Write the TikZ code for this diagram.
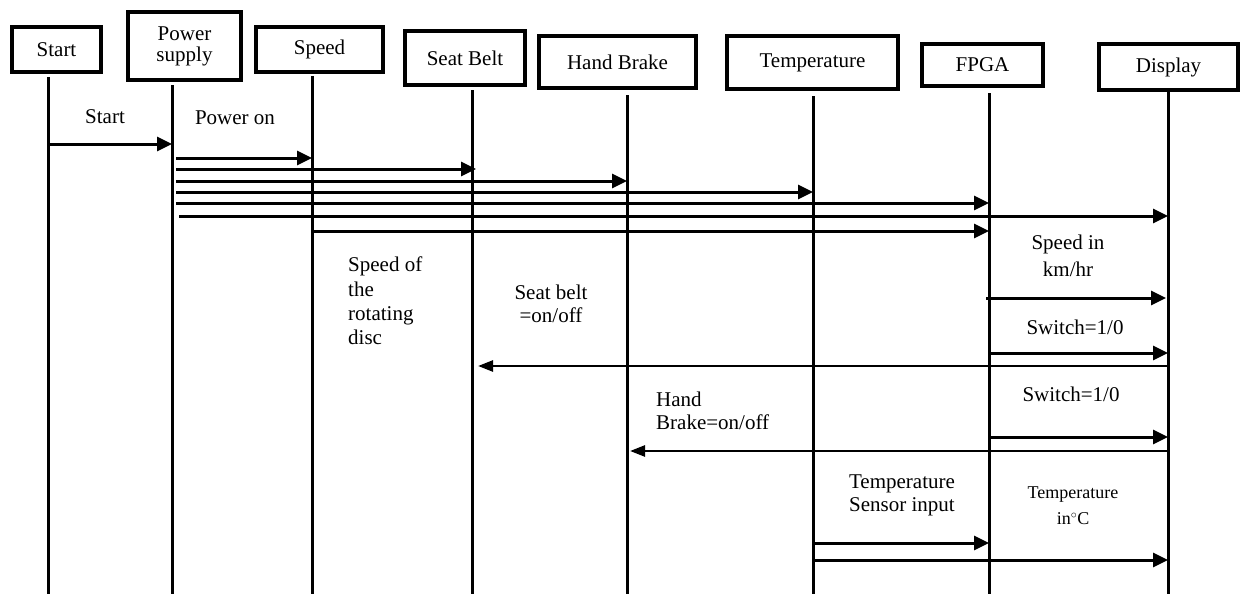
\documentclass[tikz,border=0pt]{standalone}
\usepackage{fontspec}
\setmainfont{Liberation Serif}
\usetikzlibrary{arrows.meta,calc}
\begin{document}
\begin{tikzpicture}[x=1pt,y=-1pt,
  box/.style={draw,line width=4pt,inner sep=0pt,align=center,font=\fontsize{21}{21}\selectfont},
  life/.style={line width=3pt},
  msg/.style={line width=3pt,-{Triangle[length=15pt,width=14pt]}},
  ret/.style={line width=2.6pt,-{Triangle[length=15pt,width=11pt]}},
  lbl/.style={inner sep=0pt,font=\fontsize{21}{23}\selectfont}]
\useasboundingbox (0,0) rectangle (1242,594);
% participant boxes
\node[box,minimum width=89pt,minimum height=45pt]  (start) at (56.5,49.5) {Start};
\node[box,minimum width=113pt,minimum height=68pt] (power) at (184.5,46) {Power\\supply};
\node[box,minimum width=127pt,minimum height=45pt] (speed) at (319.5,49.5) {Speed};
\node[box,minimum width=120pt,minimum height=54pt] (belt)  at (465,58) {Seat Belt};
\node[box,minimum width=157pt,minimum height=52pt] (brake) at (617.5,62) {Hand Brake};
\node[box,minimum width=171pt,minimum height=53pt] (temp)  at (812.5,62.5) {Temperature};
\node[box,minimum width=121pt,minimum height=42pt] (fpga)  at (982.5,65) {FPGA};
\node[box,minimum width=139pt,minimum height=46pt] (disp)  at (1168.5,67) {Display};
% lifeline x positions (y = 0)
\coordinate (lStart) at (48,0);
\coordinate (lPower) at (172,0);
\coordinate (lSpeed) at (312,0);
\coordinate (lBelt)  at (472,0);
\coordinate (lBrake) at (627,0);
\coordinate (lTemp)  at (813,0);
\coordinate (lFpga)  at (989,0);
\coordinate (lDisp)  at (1168,0);
% lifelines
\draw[life] ($(lStart)+(0,77)$) -- ($(lStart)+(0,594)$);
\draw[life] ($(lPower)+(0,85)$) -- ($(lPower)+(0,594)$);
\draw[life] ($(lSpeed)+(0,76)$) -- ($(lSpeed)+(0,594)$);
\draw[life] ($(lBelt)+(0,90)$)  -- ($(lBelt)+(0,594)$);
\draw[life] ($(lBrake)+(0,95)$) -- ($(lBrake)+(0,594)$);
\draw[life] ($(lTemp)+(0,96)$)  -- ($(lTemp)+(0,594)$);
\draw[life] ($(lFpga)+(0,93)$)  -- ($(lFpga)+(0,594)$);
\draw[life] ($(lDisp)+(0,90)$)  -- ($(lDisp)+(0,594)$);
% messages
\draw[msg] ($(lStart)+(0,144)$) -- ($(lPower)+(0,144)$);
\draw[msg] ($(lPower)+(4,158)$) -- ($(lSpeed)+(0,158)$);
\draw[msg] ($(lPower)+(4,169)$) -- ($(lBelt)+(4,169)$);
\draw[msg] ($(lPower)+(4,181)$) -- ($(lBrake)+(0,181)$);
\draw[msg] ($(lPower)+(4,192)$) -- ($(lTemp)+(0,192)$);
\draw[msg] ($(lPower)+(4,203)$) -- ($(lFpga)+(0,203)$);
\draw[msg] ($(lPower)+(7,216)$) -- ($(lDisp)+(0,216)$);
\draw[msg] ($(lSpeed)+(0,231)$) -- ($(lFpga)+(0,231)$);
\draw[msg] ($(lFpga)+(-3,298)$) -- ($(lDisp)+(-2,298)$);
\draw[msg] ($(lFpga)+(0,353)$) -- ($(lDisp)+(0,353)$);
\draw[ret] ($(lDisp)+(0,366)$) -- ($(lBelt)+(6,366)$);
\draw[msg] ($(lFpga)+(0,437)$) -- ($(lDisp)+(0,437)$);
\draw[ret] ($(lDisp)+(0,451)$) -- ($(lBrake)+(3,451)$);
\draw[msg] ($(lTemp)+(0,543)$) -- ($(lFpga)+(0,543)$);
\draw[msg] ($(lTemp)+(0,560)$) -- ($(lDisp)+(0,560)$);
% labels
\node[lbl,anchor=base] (tStart) at (105,123) {Start};
\node[lbl,anchor=base] (tPower) at (235,124) {Power on};
\node[lbl,anchor=north west,align=left,font=\fontsize{21}{24.3}\selectfont] (tSpeed) at (348,257) {Speed of\\the\\rotating\\disc};
\node[lbl,anchor=north,align=center] (tBelt) at (551,285) {Seat belt\\=on/off};
\node[lbl,anchor=north west,align=left] (tBrake) at (656,392) {Hand\\Brake=on/off};
\node[lbl,anchor=north,align=center,font=\fontsize{21}{27}\selectfont] (tKmh) at (1068,235) {Speed in\\km/hr};
\node[lbl,anchor=base] (tSw1) at (1075,334) {Switch=1/0};
\node[lbl,anchor=base] (tSw2) at (1071,401) {Switch=1/0};
\node[lbl,anchor=north,align=center] (tSens) at (902,475) {Temperature\\Sensor input};
\node[lbl,anchor=north,align=center,font=\fontsize{18}{26}\selectfont] (tDeg) at (1073,487) {Temperature\\in$^{\circ}$C};
\end{tikzpicture}
\end{document}
